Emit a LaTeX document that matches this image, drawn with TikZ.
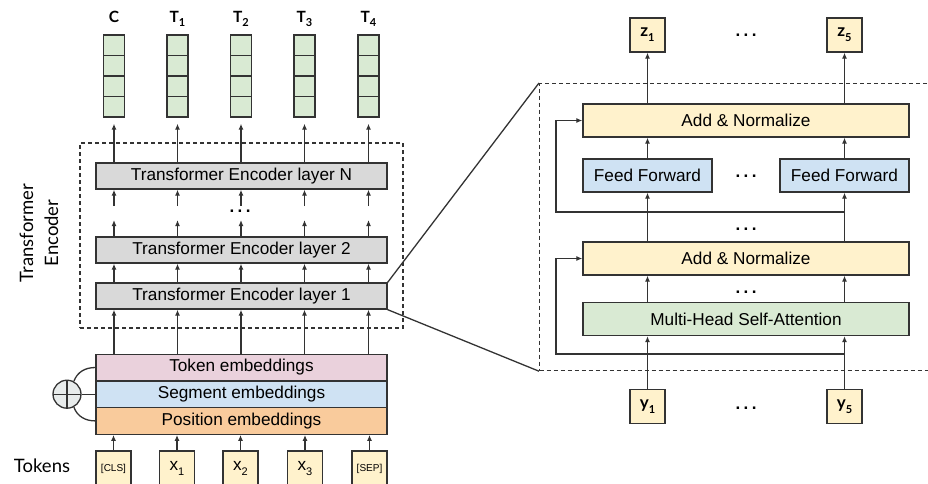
\documentclass[tikz,border=0pt]{standalone}
\usepackage{fontspec}
\setmainfont{Liberation Sans}
\newfontfamily\lato{Lato}
\usetikzlibrary{arrows.meta,calc}

\definecolor{edge}{HTML}{333333}
\definecolor{vgreen}{HTML}{D9EAD3}
\definecolor{lgray}{HTML}{D9D9D9}
\definecolor{pink}{HTML}{EAD1DC}
\definecolor{lblue}{HTML}{CFE2F3}
\definecolor{orng}{HTML}{F9CB9C}
\definecolor{yel}{HTML}{FFF2CC}
\definecolor{cgray}{HTML}{E8ECEC}

% subscript in the same font, slightly lowered
\newcommand{\sbx}[1]{\raisebox{-0.28em}{\fontsize{11}{11}\selectfont #1}}
% three spaced dots
\newcommand{\ddd}{.\hspace{3.4pt}.\hspace{3.4pt}.}

\begin{document}
\begin{tikzpicture}[x=1pt,y=-1pt,
  box/.style={draw=edge, line width=1.3pt, inner sep=0pt,
    font=\fontsize{17.2}{20}\selectfont, text=black},
  vec/.style={box, fill=vgreen, minimum width=21pt, minimum height=82pt,
    path picture={\foreach \k in {1,2,3}
      \draw[edge, line width=1.3pt]
        ([yshift=-\k*20.5pt]path picture bounding box.north west) --
        ([yshift=-\k*20.5pt]path picture bounding box.north east);}},
  layer/.style={box, fill=lgray, minimum width=291pt, minimum height=26pt},
  emb/.style={box, minimum width=291pt, minimum height=26.7pt},
  tok/.style={box, fill=yel, minimum width=35pt, minimum height=35pt},
  io/.style={box, fill=yel, minimum width=35pt, minimum height=34pt,
    font=\lato\bfseries\fontsize{17}{20}\selectfont},
  blk/.style={box, minimum height=33pt},
  arr/.style={draw=edge, line width=1.3pt, -{Latex[length=6pt,width=5pt]}},
  link/.style={draw=edge, line width=1.3pt},
  dashbox/.style={draw=edge, line width=1.2pt, dash pattern=on 4pt off 3pt},
  dots/.style={font=\bfseries\fontsize{17}{20}\selectfont, inner sep=0pt},
  lbl/.style={font=\lato\bfseries\fontsize{15.5}{18}\selectfont, inner sep=0pt},
]
\useasboundingbox (0,0) rectangle (928,483);
\clip (0,0) rectangle (928,483);

% ---------------- BERT encoder stack (left) ----------------
% output vectors and their labels
\foreach \n/\x/\t in {1/114/C, 2/177.5/T\sbx{1}, 3/241/T\sbx{2}, 4/304.5/T\sbx{3}, 5/368.5/T\sbx{4}} {
  \node[vec] (v\n) at (\x,76) {};
  \node[lbl, anchor=base] (o\n) at (\x,22) {\t};
}

% encoder block
\node[dashbox, minimum width=323pt, minimum height=185pt] (encbox) at (241.5,235.5) {};
\node[layer] (LN) at (241.5,176) {Transformer Encoder layer N};
\node[layer] (L2) at (241.5,250) {Transformer Encoder layer 2};
\node[layer] (L1) at (241.5,296) {Transformer Encoder layer 1};
\node[dots] (ldots) at (240,211) {\ddd};

\node[rotate=90, align=center, font=\lato\fontsize{18.5}{25}\selectfont, inner sep=0pt]
  (enclbl) at (39,233) {Transformer\\Encoder};

% embeddings
\node[emb, fill=pink]  (tokemb) at (241.5,367.5) {Token embeddings};
\node[emb, fill=lblue] (segemb) at (241.5,394.2) {Segment embeddings};
\node[emb, fill=orng]  (posemb) at (241.5,420.9) {Position embeddings};

% summation symbol
\node[circle, draw=edge, line width=1.3pt, fill=cgray, minimum size=28pt, inner sep=0pt,
  path picture={\draw[edge, line width=1.3pt]
    (path picture bounding box.north) -- (path picture bounding box.south)
    (path picture bounding box.west) -- (path picture bounding box.east);}]
  (sum) at (67,394.2) {};
\draw[link] (sum.62) to[out=70,in=180] (tokemb.west);
\draw[link] (sum.east) -- (segemb.west);
\draw[link] (sum.-62) to[out=-70,in=180] (posemb.west);

% input tokens
\node[font=\lato\fontsize{18.5}{20}\selectfont, inner sep=0pt] (toklbl) at (42,466) {Tokens};
\node[tok, font=\fontsize{10}{12}\selectfont] (t1) at (113.5,468.5) {[CLS]};
\node[tok] (t2) at (177,468.5) {x\sbx{1}};
\node[tok] (t3) at (240.5,468.5) {x\sbx{2}};
\node[tok] (t4) at (305,468.5) {x\sbx{3}};
\node[tok, font=\fontsize{10}{12}\selectfont] (t5) at (369.5,468.5) {[SEP]};

% row levels for the gap between layer 2 and layer N
\coordinate (gapLo) at (0,220);
\coordinate (gapHi) at (0,206);

\foreach \n in {1,...,5} {
  \draw[arr] (t\n.north) -- (t\n.north |- posemb.south);
  \draw[arr] (v\n |- tokemb.north) -- (v\n |- L1.south);
  \draw[arr] (v\n |- L1.north) -- (v\n |- L2.south);
  \draw[arr] (v\n |- L2.north) -- (v\n |- gapLo);
  \draw[arr] (v\n |- gapHi) -- (v\n |- LN.south);
  \draw[arr, shorten >=6pt] (v\n |- LN.north) -- (v\n.south);
}

% ---------------- one encoder layer in detail (right) ----------------
\node[dashbox, minimum width=400pt, minimum height=287pt, anchor=north west] (zoombox) at (539,83) {};
\draw[link] (L1.north east) -- (zoombox.north west);
\draw[link] (L1.south east) -- (zoombox.south west);

\node[io] (z1) at (647.5,35) {z\sbx{1}};
\node[io] (z5) at (844.5,35) {z\sbx{5}};
\node[dots] (zdots) at (746,35) {\ddd};

\node[blk, fill=yel, minimum width=326pt] (AN2) at (746,120.5) {Add \& Normalize};
\node[blk, fill=lblue, minimum width=129pt] (FF1) at (647.5,175.5) {Feed Forward};
\node[blk, fill=lblue, minimum width=129pt] (FF5) at (844.5,175.5) {Feed Forward};
\node[dots] (fdots) at (746,176) {\ddd};
\node[dots] (mdots) at (746,229) {\ddd};
\node[blk, fill=yel, minimum width=326pt] (AN1) at (746,258.5) {Add \& Normalize};
\node[dots] (adots) at (746,292) {\ddd};
\node[blk, fill=vgreen, minimum width=326pt] (MH) at (746,319) {Multi-Head Self-Attention};

\node[io] (y1) at (647.5,406.5) {y\sbx{1}};
\node[io] (y5) at (844.5,406.5) {y\sbx{5}};
\node[dots] (ydots) at (746,408) {\ddd};

\foreach \c/\f in {1/FF1, 5/FF5} {
  \draw[arr] (y\c.north) -- (y\c.north |- MH.south);
  \draw[arr] (y\c.north |- MH.north) -- (y\c.north |- AN1.south);
  \draw[arr] (y\c.north |- AN1.north) -- (\f.south);
  \draw[arr] (\f.north) -- (\f.north |- AN2.south);
  \draw[arr] (z\c.south |- AN2.north) -- (z\c.south);
}

% residual connections
\coordinate (rb) at (844.5,354);
\coordinate (rbl) at (556,354);
\coordinate (rt) at (844.5,212);
\coordinate (rtl) at (556,212);
\draw[arr] (rb) -- (rbl) |- (AN1.west);
\draw[arr] (rt) -- (rtl) |- (AN2.west);
\end{tikzpicture}
\end{document}
